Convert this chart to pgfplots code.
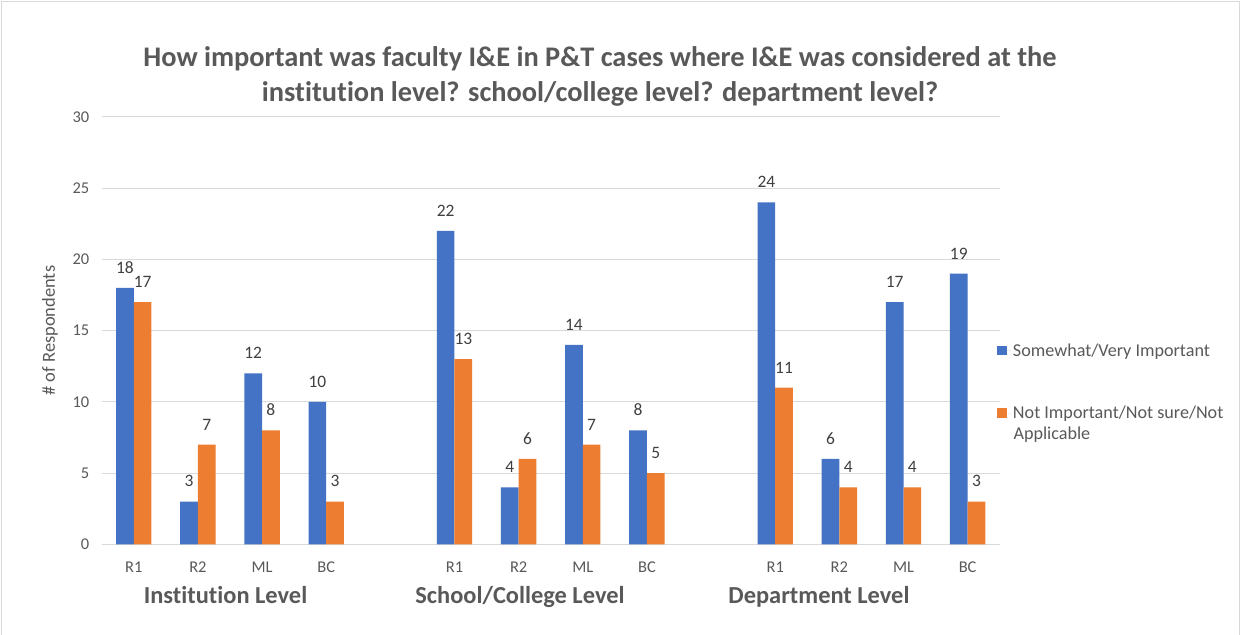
\documentclass[border=0pt]{standalone}
\usepackage{pgfplots}
\pgfplotsset{compat=1.18}
\usepackage{fontspec}
\setmainfont{Carlito}[Ligatures=NoCommon]
\definecolor{sblue}{HTML}{4472C4}
\definecolor{sorange}{HTML}{ED7D31}
\definecolor{txtgray}{HTML}{595959}
\definecolor{lblgray}{HTML}{404040}
\definecolor{gridgray}{HTML}{D9D9D9}
\begin{document}
\begin{tikzpicture}[x=1bp,y=1bp]
\useasboundingbox (0,0) rectangle (1241,635);
\fill[white] (0,0) rectangle (1241,635);
\draw[gridgray, line width=1bp] (1.5,0) -- (1.5,633.5) -- (1239.5,633.5) -- (1239.5,0);
\begin{axis}[
  at={(101.7bp,90.7bp)}, anchor=south west,
  scale only axis, width=898bp, height=427.4bp,
  xmin=-0.5, xmax=13.5, ymin=0, ymax=30,
  ybar=0pt, bar width=17.7bp,
  xtick={0,1,2,3,5,6,7,8,10,11,12,13},
  xticklabels={R1,R2,ML,BC,R1,R2,ML,BC,R1,R2,ML,BC},
  ytick={0,5,10,15,20,25,30},
  major tick length=0pt,
  axis line style={draw=none},
  ymajorgrids, grid style={gridgray, line width=1bp},
  tick label style={font=\fontsize{16.5}{19}\selectfont, text=txtgray},
  /pgf/number format/assume math mode=true,
  yticklabel style={xshift=-9bp},
  xticklabel style={yshift=-14bp},
  ylabel={\# of Respondents},
  every axis y label/.style={at={(axis description cs:-0.0576,0.5)}, rotate=90, anchor=center, font=\fontsize{18.5}{22}\selectfont, text=txtgray},
  nodes near coords,
  every node near coord/.append style={font=\fontsize{17.5}{21}\selectfont, text=lblgray, yshift=11bp},
  legend style={at={(rel axis cs:0.9973,0.475)}, anchor=north west, draw=none, fill=none, inner sep=0pt, font=\fontsize{18.2}{22}\selectfont, text=txtgray, cells={anchor=west}, row sep=44.5bp},
]
\addplot[fill=sblue, draw=none, legend image code/.code={\fill[sblue] (0bp,-4.7bp) rectangle (9.5bp,4.7bp); \path (0bp,0bp) -- (13.5bp,0bp);}] coordinates {
 (0,18) (1,3) (2,12) (3,10) (5,22) (6,4) (7,14) (8,8) (10,24) (11,6) (12,17) (13,19)};
\addplot[fill=sorange, draw=none, legend image code/.code={\fill[sorange] (0bp,-4.7bp) rectangle (9.5bp,4.7bp); \path (0bp,0bp) -- (13.5bp,0bp);}] coordinates {
 (0,17) (1,7) (2,8) (3,3) (5,13) (6,6) (7,7) (8,5) (10,11) (11,4) (12,4) (13,3)};
\legend{Somewhat/Very Important, Not Important/Not sure/Not}
\end{axis}
\node[anchor=base west, inner sep=0pt, text=txtgray, font=\fontsize{18.2}{22}\selectfont] at (1013.3,195.7) {Applicable};
\node[anchor=base, inner sep=0pt, text=txtgray, font=\fontsize{28.5}{34}\selectfont\bfseries] at (600,568.3) {How important was faculty I\&E in P\&T cases where I\&E was considered at the};
\node[anchor=base, inner sep=0pt, text=txtgray, font=\fontsize{28.5}{34}\selectfont\bfseries] at (600,533.3) {institution level? school/college level? department level?};
\node[anchor=base, inner sep=0pt, text=txtgray, font=\fontsize{24.5}{29}\selectfont\bfseries] at (225.5,31.7) {Institution Level};
\node[anchor=base, inner sep=0pt, text=txtgray, font=\fontsize{24.5}{29}\selectfont\bfseries] at (520,31.7) {School/College Level};
\node[anchor=base, inner sep=0pt, text=txtgray, font=\fontsize{24.5}{29}\selectfont\bfseries] at (819,31.7) {Department Level};
\end{tikzpicture}
\end{document}
